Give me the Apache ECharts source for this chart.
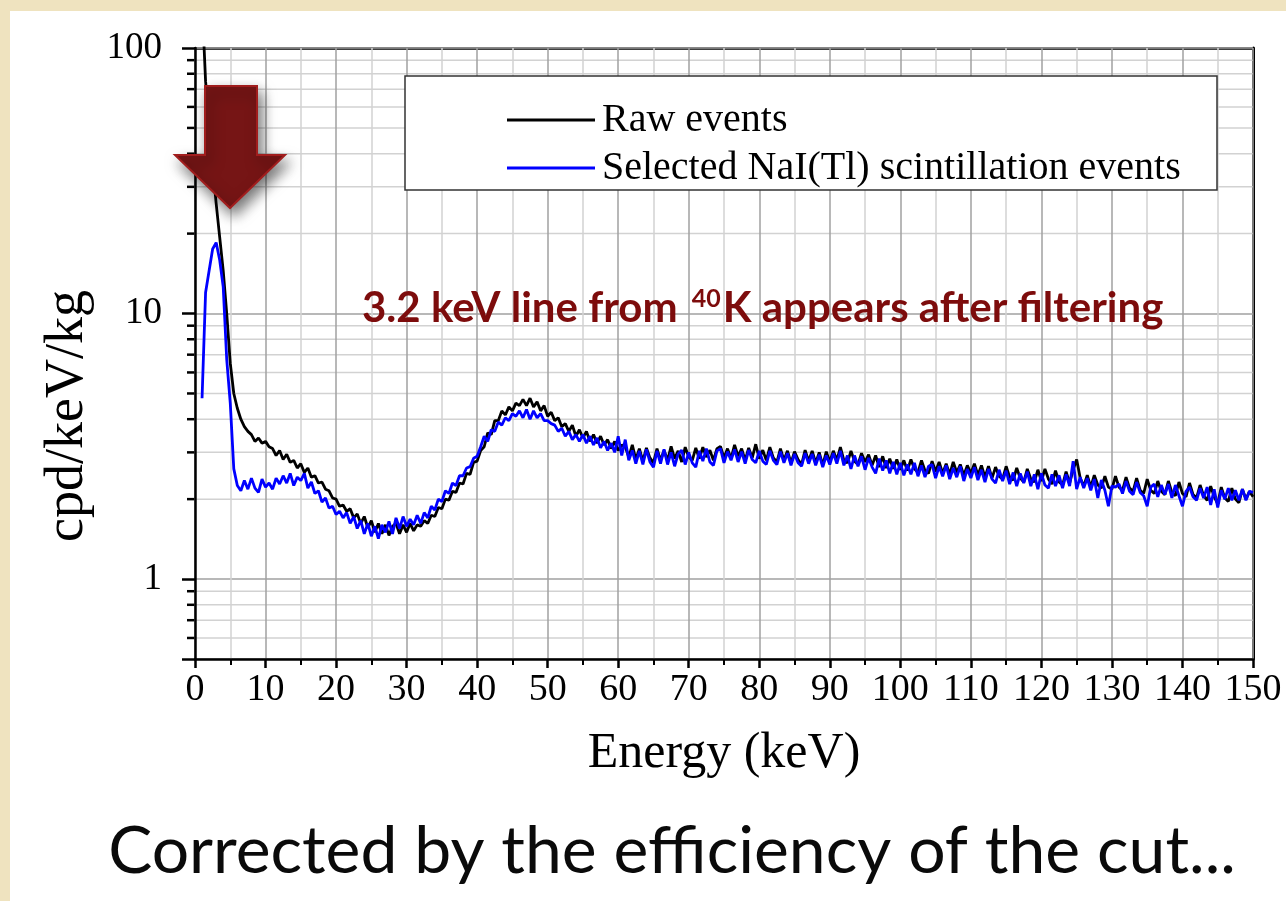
<!DOCTYPE html>
<html>
<head>
<meta charset="utf-8">
<script src="https://cdn.jsdelivr.net/npm/echarts@6/dist/echarts.min.js"></script>
<style>
  html, body { margin: 0; padding: 0; }
  #wrap { position: relative; width: 1286px; height: 901px; background: #efe3bf; overflow: hidden; }
  #panel { position: absolute; left: 10px; top: 11px; right: 0; bottom: 0; background: #ffffff; }
  #chart { position: absolute; left: 0; top: 0; width: 1286px; height: 901px; }
</style>
</head>
<body>
<div id="wrap">
  <div id="panel"></div>
  <div id="chart"></div>
</div>
<script>
// Energy bins (keV): first bin and bin width
const ENERGY_START = 1.0;
const ENERGY_STEP = 0.5;

// Raw events (cpd/keV/kg), one row per 10 keV
const rawEvents = [
  150, 75, 52, 36, 26, 19.4, 14.5, 10, 6.5, 5.0, 4.4, 4.0, 3.75, 3.6, 3.5, 3.3, 3.4, 3.25, 3.3, 3.15,
  3.1, 2.92, 3.05, 2.82, 2.95, 2.75, 2.8, 2.62, 2.72, 2.52, 2.62, 2.42, 2.45, 2.3, 2.32, 2.18, 2.15, 2.02, 2.0, 1.88,
  1.9, 1.8, 1.84, 1.7, 1.76, 1.62, 1.72, 1.56, 1.66, 1.5, 1.62, 1.48, 1.6, 1.46, 1.58, 1.62, 1.48, 1.6, 1.5, 1.62,
  1.52, 1.6, 1.58, 1.66, 1.62, 1.74, 1.72, 1.86, 1.84, 2.0, 1.98, 2.14, 2.12, 2.3, 2.28, 2.5, 2.48, 2.75, 2.78, 3.05,
  3.15, 3.55, 3.5, 3.95, 3.95, 4.3, 4.15, 4.45, 4.3, 4.6, 4.5, 4.75, 4.5, 4.8, 4.45, 4.65, 4.3, 4.5, 4.1, 4.25,
  3.95, 4.05, 3.75, 3.85, 3.6, 3.8, 3.45, 3.65, 3.4, 3.6, 3.3, 3.5, 3.25, 3.45, 3.2, 3.35, 3.1, 3.3, 3.05, 3.2,
  3.15, 2.88, 3.2, 2.82, 3.1, 2.78, 3.12, 2.86, 2.74, 3.1, 2.8, 3.05, 2.8, 3.16, 2.84, 3.04, 2.76, 3.14, 2.88, 2.8,
  3.12, 2.84, 3.14, 2.88, 3.06, 2.8, 3.1, 3.16, 2.86, 3.1, 2.84, 3.2, 2.9, 3.1, 2.8, 3.12, 2.86, 3.22, 2.84, 3.06,
  2.8, 3.14, 2.86, 2.76, 3.1, 2.8, 3.04, 2.74, 3.02, 2.82, 2.7, 3.06, 2.78, 3.04, 2.74, 3.0, 2.68, 3.02, 2.76, 3.04,
  2.8, 3.14, 2.8, 2.74, 3.04, 2.78, 2.7, 2.98, 2.76, 2.94, 2.68, 2.92, 2.64, 2.9, 2.62, 2.84, 2.6, 2.82, 2.58, 2.8,
  2.56, 2.82, 2.6, 2.52, 2.8, 2.56, 2.5, 2.78, 2.54, 2.76, 2.5, 2.72, 2.48, 2.76, 2.52, 2.7, 2.46, 2.68, 2.5, 2.72,
  2.46, 2.68, 2.42, 2.66, 2.4, 2.64, 2.44, 2.38, 2.66, 2.42, 2.36, 2.62, 2.4, 2.32, 2.6, 2.38, 2.32, 2.58, 2.34, 2.6,
  2.38, 2.28, 2.56, 2.32, 2.26, 2.54, 2.3, 2.58, 2.82, 2.4, 2.24, 2.46, 2.22, 2.46, 2.26, 2.2, 2.44, 2.22, 2.18, 2.44,
  2.22, 2.16, 2.42, 2.2, 2.14, 2.4, 2.16, 2.1, 2.38, 2.16, 2.1, 2.34, 2.14, 2.08, 2.34, 2.12, 2.06, 2.32, 2.1, 2.04,
  2.3, 2.08, 2.02, 2.26, 2.06, 1.98, 2.24, 2.04, 1.92, 2.22, 2.02, 1.96, 2.2, 2.0, 1.94, 2.18, 2.0, 2.14, 2.04
];

// Selected NaI(Tl) scintillation events (cpd/keV/kg)
const selectedEvents = [
  4.8, 12.0, 14.5, 17.5, 18.5, 15.9, 12.6, 6.7, 4.6, 2.6, 2.25, 2.15, 2.35, 2.18, 2.4, 2.2, 2.12, 2.38, 2.22, 2.3,
  2.18, 2.4, 2.28, 2.45, 2.3, 2.5, 2.25, 2.42, 2.35, 2.5, 2.2, 2.32, 2.1, 2.15, 1.95, 2.02, 1.85, 1.88, 1.75, 1.8,
  1.7, 1.78, 1.62, 1.72, 1.55, 1.66, 1.48, 1.62, 1.45, 1.58, 1.42, 1.6, 1.5, 1.65, 1.48, 1.7, 1.55, 1.72, 1.58, 1.68,
  1.6, 1.74, 1.62, 1.78, 1.7, 1.88, 1.82, 2.0, 1.96, 2.15, 2.1, 2.3, 2.25, 2.45, 2.45, 2.62, 2.65, 2.85, 2.9, 3.15,
  3.45, 3.3, 3.65, 3.6, 3.9, 3.8, 4.05, 3.95, 4.2, 4.1, 4.3, 4.05, 4.35, 4.0, 4.3, 4.05, 4.2, 3.95, 3.95, 3.85,
  3.8, 3.6, 3.7, 3.45, 3.6, 3.35, 3.5, 3.3, 3.5, 3.25, 3.45, 3.2, 3.4, 3.12, 3.3, 3.05, 3.25, 3.0, 3.45, 2.92,
  3.35, 2.8, 3.05, 2.72, 3.04, 2.7, 3.08, 2.76, 2.64, 3.04, 2.72, 3.08, 2.7, 3.0, 2.66, 2.96, 3.06, 2.7, 3.0, 2.74,
  2.64, 3.04, 2.78, 3.1, 2.76, 2.68, 3.04, 3.1, 2.74, 3.02, 2.8, 3.08, 2.76, 3.02, 2.72, 3.06, 2.82, 2.74, 3.04, 2.78,
  2.7, 3.04, 2.8, 2.7, 3.02, 2.74, 2.98, 2.68, 2.96, 2.74, 2.66, 2.98, 2.72, 2.96, 2.68, 2.94, 2.64, 2.92, 2.7, 2.98,
  2.72, 3.04, 2.68, 2.92, 2.6, 2.92, 2.66, 2.9, 2.58, 2.86, 2.64, 2.5, 2.84, 2.56, 2.8, 2.5, 2.76, 2.48, 2.74, 2.46,
  2.7, 2.48, 2.74, 2.44, 2.68, 2.42, 2.66, 2.7, 2.4, 2.66, 2.44, 2.68, 2.38, 2.62, 2.42, 2.66, 2.34, 2.6, 2.4, 2.64,
  2.36, 2.58, 2.32, 2.6, 2.38, 2.3, 2.58, 2.34, 2.56, 2.28, 2.52, 2.24, 2.5, 2.3, 2.54, 2.24, 2.48, 2.18, 2.5, 2.26,
  2.2, 2.48, 2.24, 2.46, 2.2, 2.48, 2.24, 2.78, 2.18, 2.42, 2.2, 2.4, 2.16, 2.38, 2.02, 2.36, 2.16, 1.88, 2.24, 2.22,
  2.28, 2.1, 2.34, 2.14, 2.08, 2.32, 2.12, 2.06, 1.88, 2.22, 2.28, 2.04, 2.26, 2.08, 2.28, 2.02, 2.26, 2.06, 1.88, 2.14,
  2.22, 2.04, 1.98, 2.2, 2.02, 2.22, 1.9, 2.18, 1.86, 2.16, 2.0, 2.2, 1.98, 2.16, 1.98, 2.18, 1.98, 2.14, 2.12
];

// Axis settings / labels
const X_MIN = 0, X_MAX = 150, X_INTERVAL = 10;
const Y_MIN = 0.5, Y_MAX = 100;
const yMajorLabels = [1, 10, 100];
const yMinorValues = [0.6, 0.7, 0.8, 0.9, 2, 3, 4, 5, 6, 7, 8, 9, 20, 30, 40, 50, 60, 70, 80, 90];
const seriesNames = ['Raw events', 'Selected NaI(Tl) scintillation events'];
const xAxisTitle = 'Energy (keV)';
const yAxisTitle = 'cpd/keV/kg';
const annotationText = '{a|3.2 keV line from }{s|40}{a|K appears after filtering}';
const captionText = 'Corrected by the efficiency of the cut...';

function toPairs(vals) {
  return vals.map((v, i) => [ENERGY_START + i * ENERGY_STEP, v]);
}

const SERIF = '"Liberation Serif", "Times New Roman", serif';
const SANS = 'Lato, "Noto Sans", sans-serif';

const chart = echarts.init(document.getElementById('chart'), null, { renderer: 'canvas' });

const option = {
  backgroundColor: 'transparent',
  animation: false,
  grid: { left: 195, right: 33, top: 48, bottom: 242, containLabel: false },
  legend: {
    data: [
      { name: seriesNames[0], icon: 'rect', itemStyle: { color: '#000000' } },
      { name: seriesNames[1], icon: 'rect', itemStyle: { color: '#0000ff' } }
    ],
    orient: 'vertical',
    left: 507,
    top: 100,
    itemWidth: 88,
    itemHeight: 3,
    itemGap: 8,
    padding: 0,
    selectedMode: false,
    textStyle: { fontFamily: SERIF, fontSize: 40, color: '#000', lineHeight: 40, padding: [0, 0, 0, 2] },
    z: 20
  },
  xAxis: [
    {
      type: 'value', min: X_MIN, max: X_MAX, interval: X_INTERVAL,
      name: xAxisTitle, nameLocation: 'middle', nameGap: 70,
      nameTextStyle: { fontFamily: SERIF, fontSize: 50, color: '#000' },
      axisLine: { show: true, onZero: false, lineStyle: { color: '#000', width: 2.5 } },
      axisTick: { show: true, inside: false, length: 9, lineStyle: { color: '#000', width: 2.5 } },
      minorTick: { show: true, splitNumber: 2, length: 6, lineStyle: { color: '#000', width: 2 } },
      axisLabel: { fontFamily: SERIF, fontSize: 38, color: '#000', margin: 12 },
      splitLine: { show: true, lineStyle: { color: '#a0a0a0', width: 1.5 } },
      minorSplitLine: { show: true, lineStyle: { color: '#d2d2d2', width: 1.5 } },
      z: 3
    },
    {
      type: 'value', position: 'top', min: X_MIN, max: X_MAX, interval: X_INTERVAL,
      axisLine: { show: true, onZero: false, lineStyle: { color: '#000', width: 2.5 } },
      axisTick: { show: false }, axisLabel: { show: false }, splitLine: { show: false }
    }
  ],
  yAxis: [
    {
      type: 'log', logBase: 10, min: Y_MIN, max: Y_MAX,
      axisLine: { show: true, onZero: false, lineStyle: { color: '#000', width: 2.5 } },
      axisTick: { show: true, inside: false, length: 13, lineStyle: { color: '#000', width: 2.5 } },
      axisLabel: {
        fontFamily: SERIF, fontSize: 37, color: '#000', margin: 33,
        formatter: function (v) {
          const r = Math.round(v * 1000) / 1000;
          return yMajorLabels.indexOf(r) >= 0 ? String(r) : '';
        }
      },
      splitLine: { show: true, lineStyle: { color: '#a0a0a0', width: 1.5 } },
      z: 3
    },
    {
      type: 'log', logBase: 10, min: Y_MIN, max: Y_MAX, position: 'right',
      axisLine: { show: true, onZero: false, lineStyle: { color: '#000', width: 3 } },
      axisTick: { show: false }, axisLabel: { show: false }, splitLine: { show: false }
    }
  ],
  series: [
    {
      type: 'custom',
      name: 'minorGrid',
      xAxisIndex: 0, yAxisIndex: 0,
      clip: false,
      silent: true,
      z: 1,
      data: yMinorValues.map(v => [X_MIN, v]),
      renderItem: function (params, api) {
        const v = api.value(1);
        const a = api.coord([X_MIN, v]);
        const b = api.coord([X_MAX, v]);
        return {
          type: 'group',
          children: [
            { type: 'line', shape: { x1: a[0], y1: a[1], x2: b[0], y2: b[1] }, style: { stroke: '#d2d2d2', lineWidth: 1.5 } },
            { type: 'line', shape: { x1: a[0] - 8, y1: a[1], x2: a[0], y2: a[1] }, style: { stroke: '#000', lineWidth: 2.5 } }
          ]
        };
      }
    },
    {
      type: 'line',
      name: seriesNames[0],
      data: toPairs(rawEvents),
      showSymbol: false,
      symbol: 'none',
      clip: true,
      lineStyle: { color: '#000000', width: 2.8 },
      itemStyle: { color: '#000000' },
      z: 5
    },
    {
      type: 'line',
      name: seriesNames[1],
      data: toPairs(selectedEvents),
      showSymbol: false,
      symbol: 'none',
      clip: true,
      lineStyle: { color: '#0000ff', width: 2.8 },
      itemStyle: { color: '#0000ff' },
      z: 6
    }
  ],
  graphic: [
    {
      type: 'rect', z: 10,
      shape: { x: 405, y: 76, width: 812, height: 114 },
      style: { fill: '#ffffff', stroke: '#333333', lineWidth: 1.5 }
    },
    {
      type: 'text', z: 30, x: 68, y: 416, rotation: Math.PI / 2,
      style: {
        text: yAxisTitle, fontFamily: SERIF, fontSize: 54, fill: '#000',
        align: 'center', verticalAlign: 'middle'
      }
    },
    {
      type: 'text', z: 30, left: 362, top: 286,
      style: {
        text: annotationText,
        rich: {
          a: { fontFamily: SANS, fontWeight: 'bold', fontSize: 42, fill: '#7d0c0c', lineHeight: 52 },
          s: { fontFamily: SANS, fontWeight: 'bold', fontSize: 25, fill: '#7d0c0c', padding: [0, 2, 20, 4] }
        }
      }
    },
    {
      type: 'text', z: 30, x: 672, y: 852,
      style: {
        text: captionText,
        fontFamily: SANS, fontSize: 66, fill: '#0a0a0a',
        align: 'center', verticalAlign: 'middle'
      }
    },
    {
      type: 'polygon', z: 40,
      shape: { points: [[205, 86], [257, 86], [257, 155], [285, 155], [230, 208], [175, 155], [205, 155]] },
      style: {
        fill: '#761515', stroke: '#a11d1d', lineWidth: 2,
        shadowBlur: 14, shadowOffsetX: 4, shadowOffsetY: 7, shadowColor: 'rgba(0,0,0,0.55)'
      }
    }
  ]
};

chart.setOption(option);
</script>
</body>
</html>
